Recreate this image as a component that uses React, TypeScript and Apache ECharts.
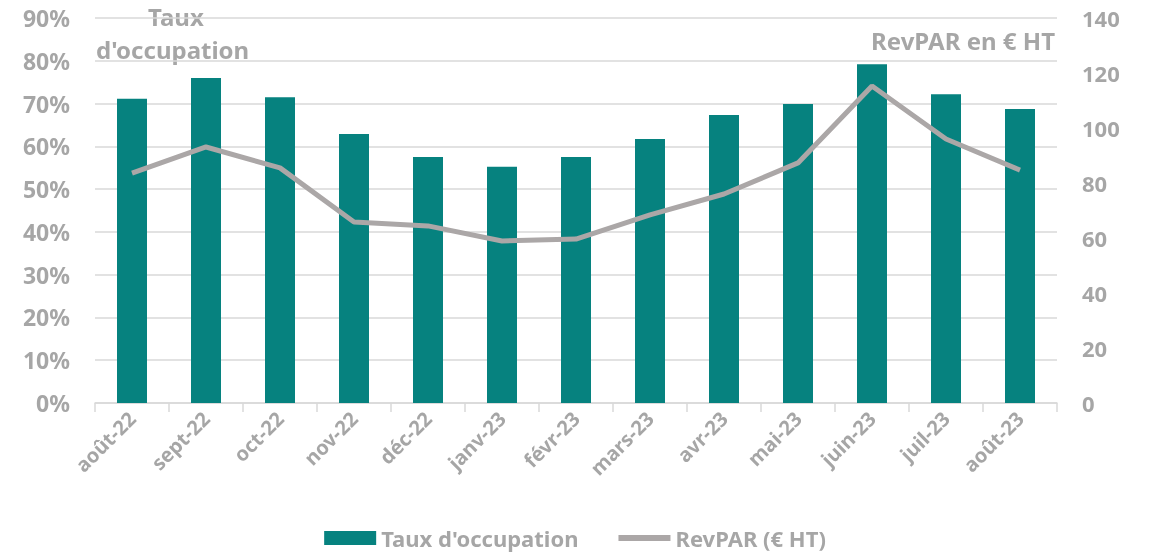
import React, { useEffect, useRef } from "react";
import * as echarts from "echarts";

const categories = ["août-22", "sept-22", "oct-22", "nov-22", "déc-22", "janv-23", "févr-23", "mars-23", "avr-23", "mai-23", "juin-23", "juil-23", "août-23"];
const tauxOccupation = [71.1, 76.0, 71.5, 62.9, 57.5, 55.2, 57.5, 61.7, 67.3, 69.9, 79.2, 72.2, 68.7];
const revpar = [83.6, 93.1, 85.5, 65.8, 64.4, 58.9, 59.6, 68.4, 76.0, 87.3, 115.3, 96.0, 84.7];

const GRAY = "#a6a6a6";
const TEAL = "#06827f";
const LINE = "#aba7a7";
const FONT = "'Noto Sans', 'DejaVu Sans', sans-serif";

export default function App() {
  const ref = useRef<HTMLDivElement>(null);
  useEffect(() => {
    if (!ref.current) return;
    const chart = echarts.init(ref.current, null, { renderer: "svg" });
    chart.setOption({
      animation: false,
      textStyle: { fontFamily: FONT },
      grid: { left: 95, right: 93, top: 18, bottom: 152, containLabel: false },
      legend: {
        top: 522,
        left: "center",
        itemGap: 40,
        itemWidth: 52,
        itemHeight: 14,
        textStyle: { color: GRAY, fontSize: 22, fontWeight: "bold", fontFamily: FONT, lineHeight: 22 },
        data: [
          { name: "Taux d'occupation", icon: "rect" },
          { name: "RevPAR (€ HT)", icon: "path://M0,0 L50,0 L50,6 L0,6 Z" },
        ],
      },
      xAxis: {
        type: "category",
        data: categories,
        boundaryGap: true,
        axisLine: { lineStyle: { color: "#d9d9d9", width: 1.5 } },
        axisTick: { show: true, length: 9, lineStyle: { color: "#d9d9d9", width: 1.5 } },
        axisLabel: { color: GRAY, fontSize: 20, fontWeight: "bold", rotate: 45, margin: 12, interval: 0 },
      },
      yAxis: [
        {
          type: "value",
          min: 0,
          max: 90,
          interval: 10,
          axisLabel: { color: GRAY, fontSize: 23, fontWeight: "bold", formatter: "{value}%", margin: 25 },
          splitLine: { lineStyle: { color: "#d9d9d9", width: 1.5 } },
          axisLine: { show: false },
          axisTick: { show: false },
        },
        {
          type: "value",
          min: 0,
          max: 140,
          interval: 20,
          position: "right",
          axisLabel: { color: GRAY, fontSize: 22, fontWeight: "bold", margin: 25 },
          splitLine: { show: false },
          axisLine: { show: false },
          axisTick: { show: false },
        },
      ],
      series: [
        {
          name: "Taux d'occupation",
          type: "bar",
          data: tauxOccupation,
          barWidth: 30,
          itemStyle: { color: TEAL },
          yAxisIndex: 0,
        },
        {
          name: "RevPAR (€ HT)",
          type: "line",
          data: revpar,
          yAxisIndex: 1,
          symbol: "none",
          lineStyle: { color: LINE, width: 5 },
          itemStyle: { color: LINE },
        },
      ],
      graphic: [
        {
          type: "text",
          left: 148,
          top: 4,
          style: { text: "Taux", fill: GRAY, font: `bold 24px ${FONT}` },
        },
        {
          type: "text",
          left: 96,
          top: 37,
          style: { text: "d'occupation", fill: GRAY, font: `bold 24px ${FONT}` },
        },
        {
          type: "text",
          right: 95,
          top: 28,
          style: { text: "RevPAR en € HT", fill: GRAY, font: `bold 24px ${FONT}` },
        },
      ],
    });
    return () => chart.dispose();
  }, []);
  return <div ref={ref} style={{ width: 1150, height: 555, position: "fixed", left: 0, top: 0 }} />;
}
